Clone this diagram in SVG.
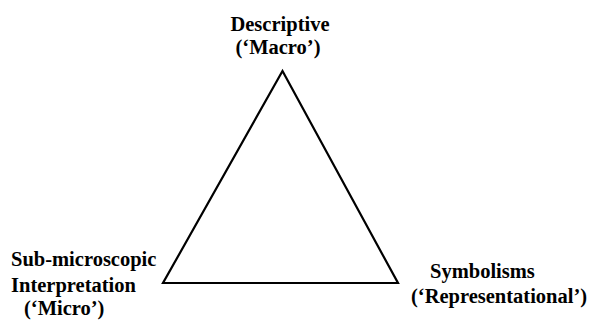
<svg xmlns="http://www.w3.org/2000/svg" width="595" height="320" viewBox="0 0 595 320">
<style>
.t{font-family:"Liberation Serif","Times New Roman",serif;font-weight:bold;font-size:20.5px;fill:#000}
.c{text-anchor:middle}
</style>
<rect width="595" height="320" fill="#fff"/>
<g id="connectors">
<polygon points="282.5,71 163,283 398,283" fill="none" stroke="#000" stroke-width="2.2" stroke-linejoin="miter"/>
</g>
<g id="macro">
<text class="t c" x="280" y="31">Descriptive</text>
<text class="t c" x="278" y="54">(‘Macro’)</text>
</g>
<g id="micro">
<text class="t" x="11" y="266">Sub-microscopic</text>
<text class="t" x="11" y="292">Interpretation</text>
<text class="t" x="24" y="315">(‘Micro’)</text>
</g>
<g id="symbolic">
<text class="t" x="430" y="278">Symbolisms</text>
<text class="t" x="411" y="303">(‘Representational’)</text>
</g>
</svg>
